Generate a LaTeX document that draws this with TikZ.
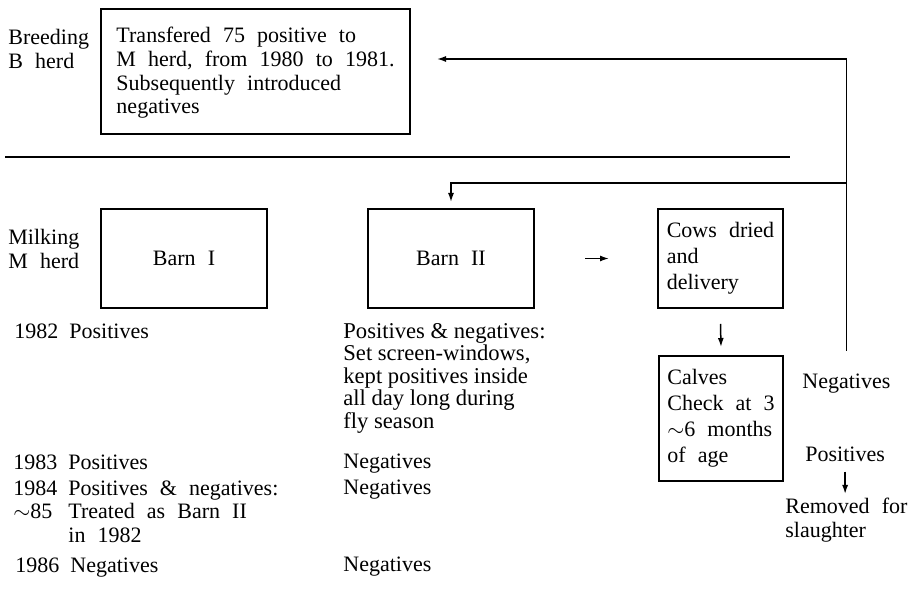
\documentclass[tikz,border=0pt]{standalone}
\usepackage{fontspec}
\setmainfont{Liberation Serif}
\usetikzlibrary{arrows.meta,calc}
\newcommand\widesp{\spaceskip=0.55em\relax}
\newcommand\yr[1]{\makebox[27.5pt][l]{#1}}

\begin{document}
\begin{tikzpicture}[x=0.5pt,y=-0.5pt,
        lbl/.style={inner sep=0pt,anchor=north west,align=left,
          font={\fontsize{11}{11.75}\selectfont\widesp}},
        pen/.style={draw,line width=1pt,inner sep=0pt,align=left,anchor=north west,
          font={\fontsize{11}{13}\selectfont\widesp}},
        arr/.style={line width=0.75pt,-{Latex[length=4.5pt,width=3pt]}}]
        \useasboundingbox (0,0) rectangle (917,592);
        \node[pen,minimum width=154.5pt,minimum height=62.5pt,
          font={\fontsize{11}{11.9}\selectfont\widesp}] (trans) at (100,8)
        {\rule{0pt}{9pt}Transfered 75 positive to\\M herd, from 1980 to 1981.\\Subsequently introduced\\negatives};
        \node[lbl] (breed) at (8,29) {Breeding\\B herd};
        \draw[line width=0.75pt] (5,157)--(790,157);
        \node[lbl] (milk) at (8,229) {Milking\\M herd};
        \node[pen,minimum width=83pt,minimum height=49.5pt] (barnI) at (100,208) {Barn I};
        \node[pen,minimum width=83pt,minimum height=49.5pt] (barnII) at (367,208) {Barn II};
        \node[pen,minimum width=62.5pt,minimum height=49.5pt] (cows) at (657,208)
        {Cows dried\\and\\delivery};
        \node[pen,minimum width=62pt,minimum height=62.5pt] (calves) at (658,355)
        {Calves\\Check at 3\\$\sim$6 months\\of age};
        \node[lbl] (yr82) at (14,323) {\yr{1982}Positives};
        \node[lbl] (yr83) at (13,454) {\yr{1983}Positives};
        \node[lbl] (yr84) at (13,480)
        {\yr{1984}Positives \& negatives:\\\yr{$\sim$85}Treated as Barn II\\\yr{}in 1982};
        \node[lbl] (yr86) at (15,557) {\yr{1986}Negatives};
        \node[lbl,font={\fontsize{11.3}{11.25}\selectfont}] (bII82) at (343,323)
        {Positives \& negatives:\\Set screen-windows,\\kept positives inside\\all day long during\\fly season};
        \node[lbl] (bII83) at (343,454) {Negatives};
        \node[lbl] (bII84) at (343,480) {Negatives};
        \node[lbl] (bII86) at (343,557) {Negatives};
        \node[lbl] (neg) at (802,374) {Negatives};
        \node[lbl] (pos) at (805,447) {Positives};
        \node[lbl] (rem) at (785,498) {Removed for\\slaughter};
        \path (neg.north |- barnII.north) ++(0,-25) coordinate (split);
        \draw[arr] ([yshift=11.5pt]neg.north) |- ([xshift=13pt,yshift=6.25pt]trans.east);
        \draw[arr] (split) -| ([yshift=3pt]barnII.north);
        \draw[arr] ([xshift=25pt]barnII.east)--([xshift=-24pt]cows.west);
        \draw[arr] ([yshift=-7.5pt]cows.south)--([yshift=4pt]calves.north);
        \draw[arr] ($(pos.south)+(0,9)$)--($(pos.south |- rem.north)+(0,-4)$);
      \end{tikzpicture}
\end{document}
